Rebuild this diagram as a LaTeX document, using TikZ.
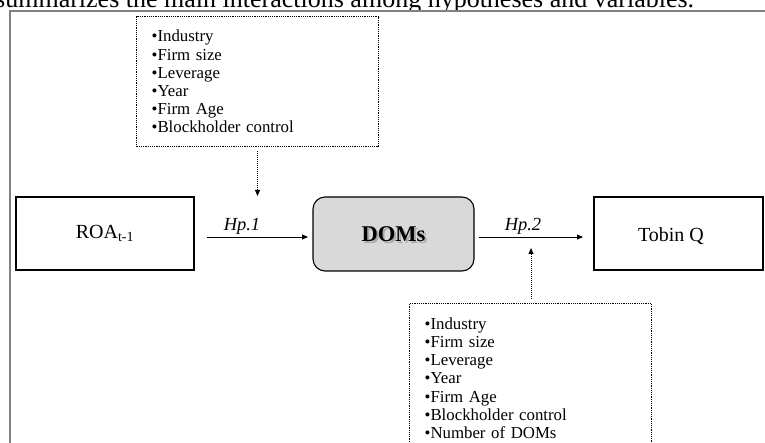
\documentclass[tikz,border=0pt]{standalone}
\usepackage{fontspec}
\setmainfont{Liberation Serif}
\usetikzlibrary{arrows.meta}
\begin{document}
\begin{tikzpicture}[x=1pt,y=-1pt,
  solidbox/.style={draw=black, line width=1.1pt, fill=white, minimum width=#1, minimum height=73pt, inner sep=0pt},
  listbox/.style={draw=black, dash pattern=on 1.2pt off 1pt, line width=1.3pt, fill=white, anchor=north west, align=left, text width=212pt, inner xsep=15pt, inner ysep=0pt, font=\fontsize{16.8}{18.2}\selectfont},
  arr/.style={line width=0.9pt, -{Triangle[length=6pt,width=5pt]}},
  dotarr/.style={dash pattern=on 1pt off 1pt, line width=0.8pt, -{Triangle[length=6pt,width=5pt]}},
  hplabel/.style={anchor=base, font=\fontsize{18.5}{20}\selectfont\itshape, inner sep=0pt}
]
\useasboundingbox (0,0) rectangle (765,443);
\clip (0,0) rectangle (765,443);
\fill[white] (0,0) rectangle (765,443);
% caption (cut off)
\node[anchor=base west, inner sep=0pt, font=\fontsize{26}{28}\selectfont] (cap) at (-5,7.5) {summarizes the main interactions among hypotheses and variables.};
% outer frame
\fill[white] (10,11) rectangle (780,460);
\draw[line width=2pt, draw=black!50] (10,460) -- (10,11) -- (780,11);
% top control box
\node[listbox, minimum height=130pt] (ctop) at (136,16)
  {•Industry\\•Firm size\\•Leverage\\•Year\\•Firm Age\\•Blockholder control};
% bottom control box
\node[listbox, minimum height=149pt] (cbot) at (409,303)
  {•Industry\\•Firm size\\•Leverage\\•Year\\•Firm Age\\•Blockholder control\\•Number of DOMs};
% main boxes
\node[solidbox=178pt, font=\fontsize{20}{22}\selectfont] (roa) at (105,233.5) {ROA\textsubscript{t-1}};
\node[draw=black, line width=1.1pt, fill=black!15, rounded corners=12pt, minimum width=161pt, minimum height=74pt, inner sep=0pt,
  font=\fontsize{22.5}{24}\selectfont\bfseries,
  path picture={
    \node[text=black!50, opacity=0.55, font=\fontsize{22.5}{24}\selectfont\bfseries] at ([xshift=2pt,yshift=-2.4pt]path picture bounding box.center) {DOMs};
  }] (doms) at (393.5,234) {DOMs};
\node[solidbox=169pt, font=\fontsize{20}{22}\selectfont] (tobin) at (678.5,233.5) {};
\node[inner sep=0pt, font=\fontsize{20}{22}\selectfont] (tobint) at (671,236) {Tobin Q};
% arrows
\coordinate (h1s) at (207,237);
\coordinate (h1e) at (308,237);
\coordinate (h2s) at (479,237);
\coordinate (h2e) at (583,237);
\draw[arr] (h1s) -- (h1e);
\draw[arr] (h2s) -- (h2e);
\node[hplabel] (hp1) at (242,231) {Hp.1};
\node[hplabel] (hp2) at (523,231) {Hp.2};
\coordinate (t1) at (257.5,196);
\coordinate (t2) at (531,248);
\draw[dotarr] (ctop.south -| t1) ++(0,4) -- (t1);
\draw[dotarr] (cbot.north -| t2) ++(0,-4) -- (t2);
\end{tikzpicture}
\end{document}
